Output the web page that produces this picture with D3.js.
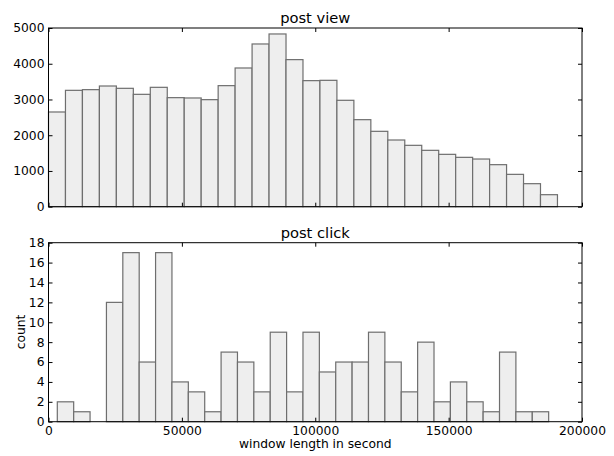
<!DOCTYPE html>
<html><head><meta charset="utf-8">
<script src="https://cdn.jsdelivr.net/npm/d3@7"></script>
<style>
body{margin:0;background:#fff;}
text{font-family:"DejaVu Sans",sans-serif;fill:#000;}
</style></head>
<body><svg id="c" width="614" height="456"></svg>
<script>
// ---- data ----
const xTicks = [0, 50000, 100000, 150000, 200000];
const viewTicks = [0, 1000, 2000, 3000, 4000, 5000];
const clickTicks = [0, 2, 4, 6, 8, 10, 12, 14, 16, 18];
const viewBinStart = 0, viewBinWidth = 6360;
const viewCounts = [2650, 3256, 3275, 3377, 3312, 3144, 3340, 3051, 3042, 2995,
  3387, 3881, 4553, 4833, 4115, 3527, 3536, 2977, 2435, 2109,
  1866, 1717, 1577, 1465, 1381, 1334, 1176, 905, 644, 336];
const clickBinStart = 3300, clickBinWidth = 6140;
const clickCounts = [2, 1, 0, 12, 17, 6, 17, 4, 3, 1,
  7, 6, 3, 9, 3, 9, 5, 6, 6, 9,
  6, 3, 8, 2, 4, 2, 1, 7, 1, 1];

const svg = d3.select("#c");
const X0 = 48.5, X1 = 582;
const x = d3.scaleLinear().domain([0, 200000]).range([X0, X1]);

function panel(top, bottom, counts, binStart, binW, yMax, yTicks, title, showX) {
  const y = d3.scaleLinear().domain([0, yMax]).range([bottom, top]);
  const g = svg.append("g");
  g.selectAll("rect").data(counts).enter().append("rect")
    .attr("x", (d, i) => x(binStart + i * binW))
    .attr("width", (d, i) => x(binStart + (i + 1) * binW) - x(binStart + i * binW))
    .attr("y", d => y(d))
    .attr("height", d => y(0) - y(d))
    .attr("fill", d => d > 0 ? "#eeeeee" : "none")
    .attr("stroke", d => d > 0 ? "#6e6e6e" : "none")
    .attr("stroke-width", 1.2);
  // frame
  g.append("rect").attr("x", X0).attr("y", top).attr("width", X1 - X0).attr("height", bottom - top)
    .attr("fill", "none").attr("stroke", "#000").attr("stroke-width", 1);
  const fs = "12.3px";
  const ax = d3.axisBottom(x).tickValues(xTicks).tickSize(-4).tickPadding(showX ? 5 : 0)
    .tickFormat(showX ? d3.format("d") : () => "");
  const gb = g.append("g").attr("transform", `translate(0,${bottom})`).call(ax);
  const gt = g.append("g").attr("transform", `translate(0,${top})`)
    .call(d3.axisTop(x).tickValues(xTicks).tickSize(-4).tickFormat(() => ""));
  const gl = g.append("g").attr("transform", `translate(${X0},0)`)
    .call(d3.axisLeft(y).tickValues(yTicks).tickSize(-4).tickPadding(4).tickFormat(d3.format("d")));
  const gr = g.append("g").attr("transform", `translate(${X1},0)`)
    .call(d3.axisRight(y).tickValues(yTicks).tickSize(-4).tickFormat(() => ""));
  [gb, gt, gl, gr].forEach(a => {
    a.select(".domain").remove();
    a.selectAll("line").attr("stroke", "#000");
    a.selectAll("text").style("font-family", "DejaVu Sans").style("font-size", fs).attr("fill", "#000");
  });
  g.append("text").attr("x", (X0 + X1) / 2).attr("y", top - 5).attr("text-anchor", "middle")
    .style("font-size", "14.7px").text(title);
  return y;
}

panel(28, 206.7, viewCounts, viewBinStart, viewBinWidth, 5000, viewTicks, "post view", false);
panel(242.7, 421.7, clickCounts, clickBinStart, clickBinWidth, 18, clickTicks, "post click", true);

svg.append("text").attr("x", (X0 + X1) / 2).attr("y", 448).attr("text-anchor", "middle")
  .style("font-size", "12.3px").text("window length in second");
svg.append("text").attr("transform", `translate(25,332) rotate(-90)`).attr("text-anchor", "middle")
  .style("font-size", "12.3px").text("count");
</script></body></html>
